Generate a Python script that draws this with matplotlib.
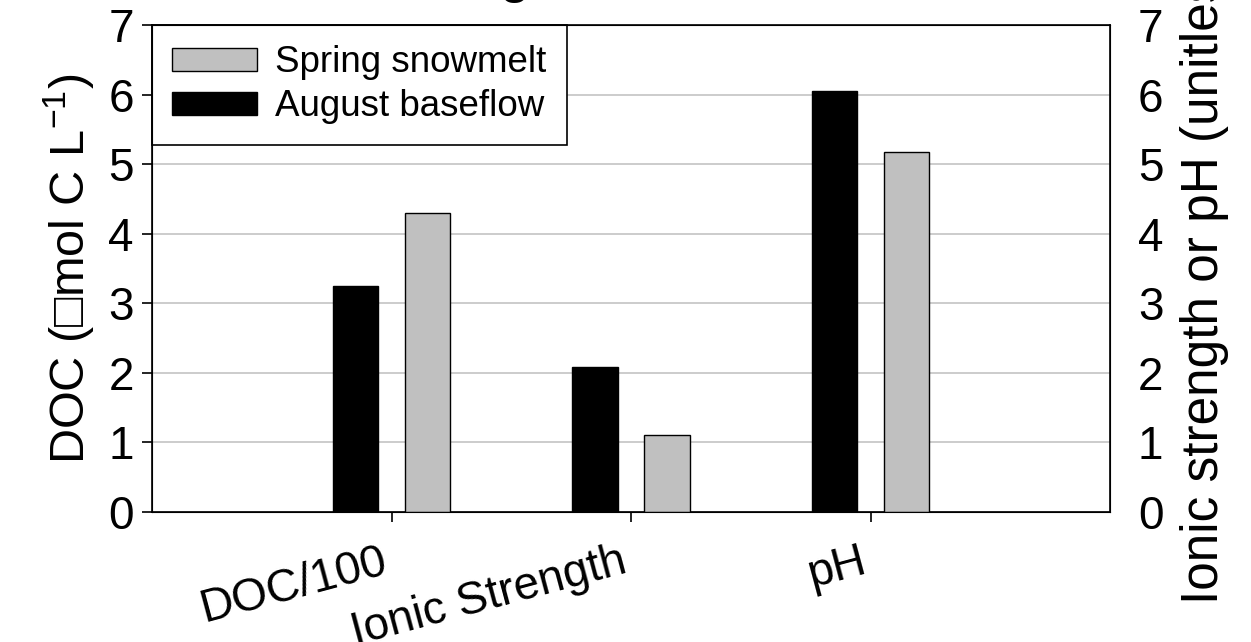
import matplotlib
matplotlib.use('Agg')
import numpy as np
from matplotlib import pyplot as plt

plt.rcParams['font.family'] = ['Liberation Sans', 'DejaVu Sans']
plt.rcParams['mathtext.default'] = 'regular'

categories = ['DOC/100', 'Ionic Strength', 'pH']
august_baseflow = [3.25, 2.08, 6.05]
spring_snowmelt = [4.30, 1.10, 5.17]

title = 'Seasonal Changes in Headwater Streams'

fig = plt.figure(figsize=(12.51, 6.42), dpi=100)
ax = fig.add_axes([152 / 1251, 1 - 512 / 642, (1110 - 152) / 1251, (512 - 25) / 642])

x = np.arange(1, len(categories) + 1)
w = 0.19

ax.bar(x - 0.15, august_baseflow, w, color='black', edgecolor='black',
       linewidth=1, label='August baseflow', zorder=3)
ax.bar(x + 0.15, spring_snowmelt, w, color='#c0c0c0', edgecolor='black',
       linewidth=1, label='Spring snowmelt', zorder=3)

ax.set_xlim(0, 4)
ax.set_ylim(0, 7)
ax.set_yticks(range(8))
ax.yaxis.grid(True, color='#c8c8c8', linewidth=1.3, zorder=0)
ax.set_axisbelow(True)

ax.set_xticks(x)
ax.set_xticklabels(categories, rotation=15, ha='right', fontsize=33)
ax.tick_params(axis='x', length=7, width=1.2, pad=13)
ax.tick_params(axis='y', length=7, width=1.2, labelsize=33, pad=6)
for s in ax.spines.values():
    s.set_linewidth(1.2)

ax.set_ylabel('DOC (\u25a1mol C L$^{-1}$)', fontsize=35, labelpad=8)

ax2 = ax.twinx()
ax2.set_ylim(0, 7)
ax2.set_yticks(range(8))
ax2.tick_params(axis='y', length=0, labelsize=33, pad=20)
ax2.set_ylabel('Ionic strength or pH (unitless)', fontsize=37, labelpad=12)

# legend: spring first, then august
h, l = ax.get_legend_handles_labels()
leg = ax.legend([h[1], h[0]], [l[1], l[0]], loc='upper left', fontsize=26.5,
                frameon=True, fancybox=False, edgecolor='black',
                borderaxespad=0, handlelength=2.3, handleheight=0.6,
                borderpad=0.55, labelspacing=0.25, handletextpad=0.5)
leg.get_frame().set_linewidth(1.2)
leg.get_frame().set_alpha(1)

fig.text(0.5, 1 + 7 / 642, title, ha='center', va='baseline',
         fontsize=34, fontweight='bold')

fig.savefig('out.png', dpi=100)
